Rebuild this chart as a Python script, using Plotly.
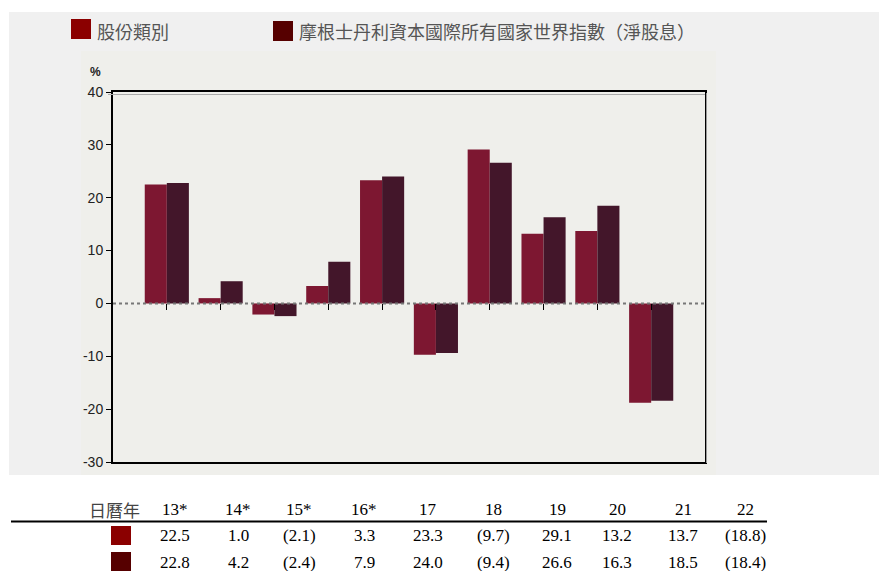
import plotly.graph_objects as go

years = ["13*", "14*", "15*", "16*", "17", "18", "19", "20", "21", "22"]
share_class = [22.5, 1.0, -2.1, 3.3, 23.3, -9.7, 29.1, 13.2, 13.7, -18.8]
msci_acwi = [22.8, 4.2, -2.4, 7.9, 24.0, -9.4, 26.6, 16.3, 18.5, -18.4]
y_ticks = [-30, -20, -10, 0, 10, 20, 30, 40]

name_share = "股份類別"
name_index = "摩根士丹利資本國際所有國家世界指數（淨股息）"

W, H = 879, 571
L, R, T, B = 113, 705, 92, 462   # plot box in pixels


def px(x):
    return (x - L) / (R - L)


def py(y):
    return (B - y) / (B - T)


def fmt(v):
    return f"({abs(v):.1f})" if v < 0 else f"{v:.1f}"


bar_red = "#7d1731"
bar_dark = "#43162a"
key_red = "#8b0000"
key_dark = "#560000"


def label(text, x, y, size, family, color, xanchor="center"):
    return dict(text=text, x=px(x), y=py(y), xref="paper", yref="paper", showarrow=False,
                xanchor=xanchor, yanchor="middle",
                font=dict(family=family, size=size, color=color))


fig = go.Figure()
fig.add_trace(go.Bar(x=years, y=share_class, name=name_share, marker=dict(color=bar_red, line_width=0)))
fig.add_trace(go.Bar(x=years, y=msci_acwi, name=name_index, marker=dict(color=bar_dark, line_width=0)))
# empty trace so the zero-line tick axis gets drawn
fig.add_trace(go.Scatter(x=years, y=[None] * len(years), xaxis="x2", showlegend=False, hoverinfo="skip"))

shapes = [
    # outer grey panel and lighter chart panel
    dict(type="rect", xref="paper", yref="paper", x0=px(9), x1=px(879), y0=py(475), y1=py(12),
         fillcolor="#f0f0f0", line_width=0, layer="below"),
    dict(type="rect", xref="paper", yref="paper", x0=px(81), x1=px(716), y0=py(475), y1=py(51),
         fillcolor="#efefeb", line_width=0, layer="below"),
    # shadow on top and right edges of the box
    dict(type="line", xref="paper", yref="paper", x0=px(108), x1=px(705), y0=py(94.5), y1=py(94.5),
         line=dict(color="#aaaaaa", width=1)),
    dict(type="line", xref="paper", yref="paper", x0=px(706.5), x1=px(706.5), y0=py(93), y1=py(463),
         line=dict(color="#999999", width=1)),
    # dotted zero line
    dict(type="line", xref="paper", yref="y", x0=0, x1=1, y0=0, y1=0,
         line=dict(color="#777777", width=2, dash="dot"), layer="above"),
    # table header rule
    dict(type="line", xref="paper", yref="paper", x0=px(11), x1=px(767), y0=py(521.5), y1=py(521.5),
         line=dict(color="black", width=2)),
]

annotations = [label("<b>%</b>", 95, 72, 12, "Liberation Sans", "#222")]

# legend keys
for x0, dy, col, name in [(71, 0, key_red, name_share), (273, 2, key_dark, name_index)]:
    shapes.append(dict(type="rect", xref="paper", yref="paper", x0=px(x0), x1=px(x0 + 20),
                       y0=py(39 + dy), y1=py(19 + dy), fillcolor=col, line_width=0))
    annotations.append(label(name, x0 + 24, 31, 18, "Noto Sans CJK TC", "#555", xanchor="left"))

# table under the chart
col_x = [175, 238, 299, 364, 428, 493, 557, 617, 683, 745]
annotations.append(label("日曆年", 114, 509, 17, "Noto Sans CJK TC", "#444"))
for x, yr, a, b in zip(col_x, years, share_class, msci_acwi):
    for row_y, txt in [(509, yr), (535, fmt(a)), (562, fmt(b))]:
        annotations.append(label(txt, x, row_y, 17, "Liberation Serif", "black"))
for y0, col in [(526, key_red), (552, key_dark)]:
    shapes.append(dict(type="rect", xref="paper", yref="paper", x0=px(111), x1=px(131),
                       y0=py(y0 + 19), y1=py(y0), fillcolor=col, line_width=0))

fig.update_layout(
    width=W, height=H,
    margin=dict(l=L, r=W - R, t=T, b=H - B, pad=0),
    paper_bgcolor="white",
    plot_bgcolor="rgba(0,0,0,0)",
    barmode="group",
    bargap=0.18,
    bargroupgap=0,
    showlegend=False,
    shapes=shapes,
    annotations=annotations,
    xaxis=dict(type="category", range=[-1, 10], showline=True, linecolor="black", linewidth=2,
               mirror=True, showgrid=False, showticklabels=False, ticks="", zeroline=False),
    xaxis2=dict(type="category", range=[-1, 10], overlaying="x", anchor="free", position=30 / 70,
                showline=False, showgrid=False, showticklabels=False, ticks="outside",
                ticklen=6, tickwidth=1, tickcolor="black", zeroline=False),
    yaxis=dict(range=[-30, 40], tickvals=y_ticks, ticktext=[str(v) for v in y_ticks],
               showline=True, linecolor="black", linewidth=2,
               mirror=True, showgrid=False, zeroline=False, ticks="outside", ticklen=5,
               tickwidth=1, tickcolor="black",
               tickfont=dict(family="Liberation Sans", size=14, color="#222")),
)

fig.write_html("out.html", config={"displayModeBar": False},
               post_script="document.body.style.margin='0';")
